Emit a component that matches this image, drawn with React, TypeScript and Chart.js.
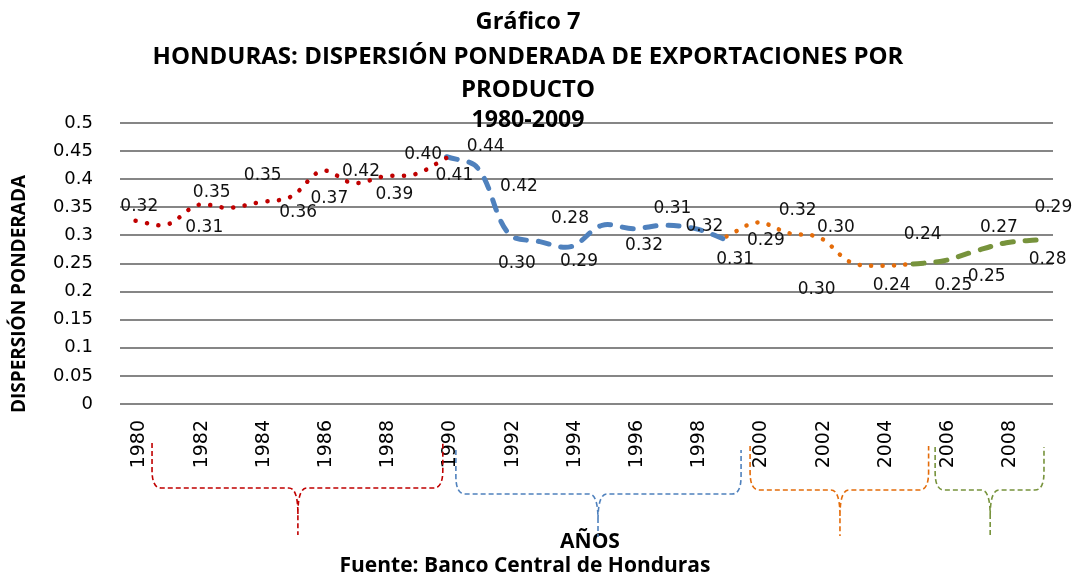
import React, { useEffect, useRef } from "react";
import { Chart, registerables } from "chart.js";

Chart.register(...registerables);

// ---- data ----
const categories = [
  "1980", "1981", "1982", "1983", "1984", "1985", "1986", "1987", "1988", "1989",
  "1990", "1991", "1992", "1993", "1994", "1995", "1996", "1997", "1998", "1999",
  "2000", "2001", "2002", "2003", "2004", "2005", "2006", "2007", "2008", "2009",
];
const yTickLabels = ["0", "0.05", "0.1", "0.15", "0.2", "0.25", "0.3", "0.35", "0.4", "0.45", "0.5"];

const N = null;
const serie1980 = [0.326, 0.319, 0.354, 0.349, 0.359, 0.369, 0.415, 0.393, 0.405, 0.409, 0.438,
  N, N, N, N, N, N, N, N, N, N, N, N, N, N, N, N, N, N, N];
const serie1990 = [N, N, N, N, N, N, N, N, N, N,
  0.440, 0.420, 0.303, 0.289, 0.280, 0.318, 0.312, 0.318, 0.312, 0.292,
  N, N, N, N, N, N, N, N, N, N];
const serie2000 = [N, N, N, N, N, N, N, N, N, N, N, N, N, N, N, N, N, N, N,
  0.298, 0.323, 0.304, 0.296, 0.252, 0.246, 0.249, N, N, N, N];
const serie2005 = [N, N, N, N, N, N, N, N, N, N, N, N, N, N, N, N, N, N, N, N, N, N, N, N, N,
  0.249, 0.255, 0.272, 0.287, 0.292];

// data labels as printed in the original (text, anchor in category index / value units)
const labelTexts = ["0.32", "0.31", "0.35", "0.35", "0.36", "0.37", "0.42", "0.39", "0.40", "0.41",
  "0.44", "0.42", "0.30", "0.28", "0.29", "0.32", "0.31", "0.32", "0.31", "0.29",
  "0.32", "0.30", "0.30", "0.24", "0.24", "0.25", "0.25", "0.27", "0.29", "0.28"];
const labelIndex = [0.12, 2.21, 2.45, 4.09, 5.23, 6.23, 7.25, 8.32, 9.25, 10.25,
  11.26, 12.33, 12.26, 13.97, 14.26, 16.35, 17.26, 18.29, 19.28, 20.27,
  21.29, 22.52, 21.9, 24.31, 25.31, 26.3, 27.37, 27.76, 29.51, 29.33];
const labelValue = [0.351, 0.314, 0.376, 0.406, 0.34, 0.366, 0.413, 0.372, 0.443, 0.406,
  0.458, 0.387, 0.25, 0.33, 0.254, 0.281, 0.348, 0.315, 0.257, 0.291,
  0.345, 0.314, 0.204, 0.21, 0.301, 0.21, 0.227, 0.314, 0.35, 0.257];

// period braces under the axis (category index units)
const braceStart = [0.53, 10.3, 19.76, 25.71];
const braceTip = [5.22, 14.87, 22.65, 27.48];
const braceEnd = [9.88, 19.47, 25.5, 29.21];

const titleLines = [
  "Gráfico 7",
  "HONDURAS: DISPERSIÓN PONDERADA DE EXPORTACIONES POR",
  "PRODUCTO",
  "1980-2009",
];

// ---- styles ----
const COLORS = ["#C00000", "#4F81BD", "#E46C0A", "#77933C"];
const braceTops = [443, 450, 446, 447];
const braceMids = [488, 494, 490, 490];
const braceTips = [535, 537, 536, 536];

const overlayPlugin = {
  id: "overlay",
  afterDraw(chart: any) {
    const ctx = chart.ctx as CanvasRenderingContext2D;
    const xs = chart.scales.x;
    const ys = chart.scales.y;
    ctx.save();

    // data labels
    ctx.fillStyle = "#111";
    ctx.font = "17px 'DejaVu Sans'";
    ctx.textAlign = "center";
    ctx.textBaseline = "middle";
    labelTexts.forEach((t, i) => {
      ctx.fillText(t, xs.getPixelForValue(labelIndex[i]), ys.getPixelForValue(labelValue[i]));
    });

    // titles
    ctx.fillStyle = "#000";
    ctx.font = "bold 24px 'Open Sans'";
    const tY = [22, 57, 90, 120];
    const tW = [105, 755, 134, 113];
    titleLines.forEach((t, i) => ctx.fillText(t, 528, tY[i], tW[i]));

    ctx.font = "bold 21px 'Open Sans'";
    ctx.fillText("AÑOS", 590, 542, 60);
    ctx.fillText("Fuente: Banco Central de Honduras", 525, 566, 415);

    ctx.save();
    ctx.translate(20, 294);
    ctx.rotate(-Math.PI / 2);
    ctx.font = "bold 19px 'Open Sans'";
    ctx.fillText("DISPERSIÓN PONDERADA", 0, 0, 258);
    ctx.restore();

    // braces
    ctx.lineWidth = 1.6;
    ctx.setLineDash([5, 3]);
    braceStart.forEach((s, i) => {
      const xL = xs.getPixelForValue(s);
      const xR = xs.getPixelForValue(braceEnd[i]);
      const xT = xs.getPixelForValue(braceTip[i]);
      const yT = braceTops[i];
      const yM = braceMids[i];
      const yP = braceTips[i];
      const r = 9;
      ctx.strokeStyle = COLORS[i];
      ctx.beginPath();
      ctx.moveTo(xL, yT);
      ctx.lineTo(xL, yM - 2 * r);
      ctx.quadraticCurveTo(xL, yM, xL + r, yM);
      ctx.lineTo(xT - r, yM);
      ctx.quadraticCurveTo(xT, yM, xT, yM + 26);
      ctx.lineTo(xT, yP);
      ctx.moveTo(xT, yM + 26);
      ctx.quadraticCurveTo(xT, yM, xT + r, yM);
      ctx.lineTo(xR - r, yM);
      ctx.quadraticCurveTo(xR, yM, xR, yM - 2 * r);
      ctx.lineTo(xR, yT);
      ctx.stroke();
    });
    ctx.restore();
  },
};

export default function App() {
  const ref = useRef<HTMLCanvasElement | null>(null);

  useEffect(() => {
    if (!ref.current) return;
    const mk = (data: (number | null)[], color: string, width: number, dash: number[]) => ({
      data,
      borderColor: color,
      backgroundColor: color,
      borderWidth: width,
      borderDash: dash,
      borderCapStyle: "round" as const,
      pointRadius: 0,
      tension: 0.35,
      fill: false,
      spanGaps: false,
    });
    const chart = new Chart(ref.current, {
      type: "line",
      data: {
        labels: categories,
        datasets: [
          mk(serie1980, COLORS[0], 4.5, [0.1, 11.5]),
          mk(serie1990, COLORS[1], 5, [11, 12]),
          mk(serie2000, COLORS[2], 4.5, [0.1, 11.3]),
          mk(serie2005, COLORS[3], 5, [11, 12]),
        ],
      },
      options: {
        responsive: false,
        animation: false,
        layout: { padding: { top: 123, right: 28, left: 0, bottom: 0 } },
        plugins: { legend: { display: false }, tooltip: { enabled: false }, title: { display: false } },
        scales: {
          x: {
            type: "category",
            offset: true,
            grid: { display: false, drawTicks: false },
            border: { display: false },
            ticks: {
              autoSkip: false,
              minRotation: 90,
              maxRotation: 90,
              padding: 16,
              labelOffset: 4,
              color: "#000",
              font: { family: "'DejaVu Sans'", size: 19 },
              callback: (_v: any, i: number) => (i % 2 === 0 ? categories[i] : ""),
            },
            afterFit: (s: any) => {
              s.height = 175;
            },
          },
          y: {
            min: 0,
            max: 0.5,
            grid: { color: "#868686", lineWidth: 2, drawTicks: false },
            border: { display: false },
            ticks: {
              stepSize: 0.05,
              padding: 27,
              color: "#000",
              font: { family: "'DejaVu Sans'", size: 18 },
              callback: (_v: any, i: number) => yTickLabels[i],
            },
            afterFit: (s: any) => {
              s.width = 120;
            },
          },
        },
      },
      plugins: [overlayPlugin],
    });
    return () => chart.destroy();
  }, []);

  return (
    <div style={{ position: "fixed", left: 0, top: 0, width: 1081, height: 579, background: "#fff" }}>
      <canvas ref={ref} width={1081} height={579} style={{ display: "block" }} />
    </div>
  );
}
